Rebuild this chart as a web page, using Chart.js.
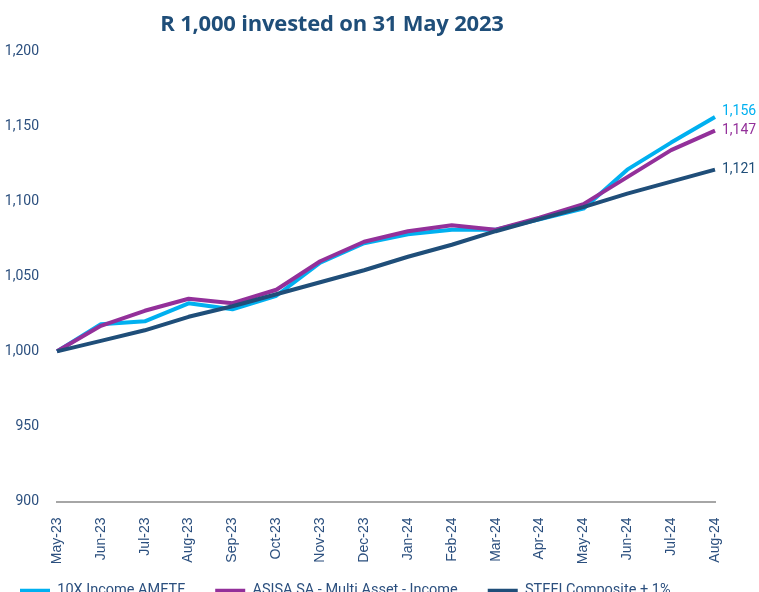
<!DOCTYPE html>
<html>
<head>
<meta charset="utf-8">
<script src="https://cdn.jsdelivr.net/npm/chart.js@4"></script>
<style>
  html, body { margin: 0; padding: 0; background: #fff; }
  #wrap { position: relative; width: 759px; height: 592px; overflow: hidden; }
  #titel {
    position: absolute; left: 0; top: 7px; width: 664px; text-align: center;
    font-family: "Open Sans", sans-serif; font-weight: 700; font-size: 22px;
    letter-spacing: -0.2px; color: #1F4E79;
  }
  canvas { position: absolute; left: 0; top: 0; }
</style>
</head>
<body>
<div id="wrap">
  <canvas id="grafico" width="759" height="592"></canvas>
  <div id="titel">R 1,000 invested on 31 May 2023</div>
</div>
<script>
const maanden = ["May-23", "Jun-23", "Jul-23", "Aug-23", "Sep-23", "Oct-23", "Nov-23", "Dec-23",
  "Jan-24", "Feb-24", "Mar-24", "Apr-24", "May-24", "Jun-24", "Jul-24", "Aug-24"];

const tienX = [1000, 1018, 1020, 1032, 1028, 1037, 1059, 1072, 1078, 1081, 1081, 1088, 1095, 1121, 1139, 1156];
const asisa = [1000, 1017, 1027, 1035, 1032, 1041, 1060, 1073, 1080, 1084, 1081, 1089, 1098, 1116, 1134, 1147];
const stefi = [1000, 1007, 1014, 1023, 1030, 1038, 1046, 1054, 1063, 1071, 1080, 1088, 1096, 1105, 1113, 1121];

const yTicks = [900, 950, 1000, 1050, 1100, 1150, 1200];

const navy = "#1F4E79";
const tekstKleur = "#2B4F7E";

// labels at the end of each line
const eindLabels = {
  id: "eindLabels",
  afterLayout(chart) {
    // let the rotated month labels run below the axis box (otherwise clipped)
    chart.scales.x.bottom = chart.height;
  },
  afterDatasetsDraw(chart) {
    const ctx = chart.ctx;
    const verschuiving = [-6, 0, 0];
    ctx.save();
    ctx.font = "14px Roboto";
    ctx.textAlign = "left";
    ctx.textBaseline = "middle";
    chart.data.datasets.forEach((ds, i) => {
      const meta = chart.getDatasetMeta(i);
      const p = meta.data[meta.data.length - 1];
      ctx.fillStyle = ds.borderColor;
      ctx.fillText(ds.data[ds.data.length - 1].toLocaleString("en-US"), p.x + 7, p.y + verschuiving[i]);
    });
    ctx.restore();
  }
};

let myChart = new Chart(document.getElementById("grafico").getContext("2d"), {
  type: "line",
  data: {
    labels: maanden,
    datasets: [
      { label: "10X Income AMETF", data: tienX, borderColor: "#00B0F0", backgroundColor: "#00B0F0", order: 2 },
      { label: "ASISA SA - Multi Asset - Income", data: asisa, borderColor: "#93309A", backgroundColor: "#93309A", order: 1 },
      { label: "STEFI Composite + 1%", data: stefi, borderColor: navy, backgroundColor: navy, order: 0 },
    ],
  },
  options: {
    responsive: false,
    animation: false,
    elements: {
      line: { borderWidth: 4, tension: 0, borderJoinStyle: "round" },
      point: { radius: 0 },
    },
    layout: { padding: { left: -10, right: 44, top: 51, bottom: -16 } },
    scales: {
      x: {
        grid: { display: false },
        border: { display: true, color: "#A6A6A6", width: 2 },
        ticks: {
          color: tekstKleur, font: { family: "Arial", size: 14 },
          minRotation: 90, maxRotation: 90, padding: 8, autoSkip: false,
        },
        afterFit: (scale) => { scale.height = 52; },
      },
      y: {
        min: 900, max: 1200,
        grid: { display: false, drawTicks: false },
        border: { display: false },
        afterBuildTicks: (scale) => { scale.ticks = yTicks.map((v) => ({ value: v })); },
        ticks: {
          color: tekstKleur, font: { family: "Roboto", size: 14 }, padding: 18,
          callback: (v) => v.toLocaleString("en-US"),
        },
        afterFit: (scale) => { scale.width = 67; },
      },
    },
    plugins: {
      title: { display: false },
      tooltip: { enabled: false },
      legend: {
        position: "bottom",
        align: "start",
        labels: {
          color: tekstKleur,
          font: { family: "Roboto", size: 14.5 },
          boxWidth: 30, boxHeight: 4, padding: 30,
          sort: (a, b) => a.datasetIndex - b.datasetIndex,
          generateLabels: (chart) =>
            Chart.defaults.plugins.legend.labels.generateLabels(chart).map((l) => ({ ...l, lineWidth: 0 })),
        },
      },
    },
  },
  plugins: [eindLabels],
});
</script>
</body>
</html>
